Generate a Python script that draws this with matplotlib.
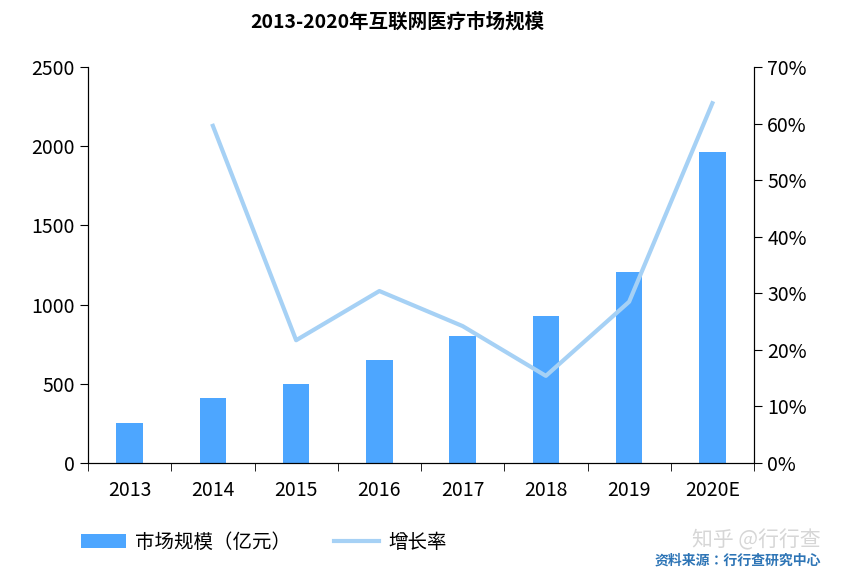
import matplotlib.pyplot as plt
import numpy as np

plt.rcParams['font.family'] = 'sans-serif'
plt.rcParams['font.sans-serif'] = ['Noto Sans CJK SC', 'Noto Sans CJK JP', 'Noto Sans CJK TC',
                                   'Noto Sans CJK KR', 'DejaVu Sans']

years = ['2013', '2014', '2015', '2016', '2017', '2018', '2019', '2020E']
market = [253, 410, 499, 650, 802, 928, 1206, 1963]
growth = [None, 59.6, 21.7, 30.4, 24.2, 15.4, 28.5, 63.6]

fig = plt.figure(figsize=(8.46, 5.78), dpi=100)
ax = fig.add_axes([88 / 846, 1 - 463 / 578, 666 / 846, 396 / 578])
x = np.arange(len(years))
bars = ax.bar(x, market, width=0.32, color='#4da6ff', label='市场规模（亿元）')
ax.set_ylim(0, 2500)
ax.set_yticks(range(0, 2501, 500))
ax.set_xlim(-0.5, len(years) - 0.5)
ax.set_xticks(x)
ax.set_xticklabels(years)
ax.set_xticks(np.arange(-0.5, len(years)), minor=True)
ax.tick_params(axis='x', which='major', length=0, pad=12, labelsize=14)
ax.tick_params(axis='x', which='minor', length=6, direction='out')
ax.tick_params(axis='y', labelsize=14, length=6)
ax.spines['top'].set_visible(False)

ax2 = ax.twinx()
gx = [i for i, g in enumerate(growth) if g is not None]
gy = [g for g in growth if g is not None]
line, = ax2.plot(gx, gy, color='#a6d1f5', lw=3, label='增长率')
ax2.set_ylim(0, 70)
ax2.set_yticks(range(0, 71, 10))
ax2.set_yticklabels([f'{v}%' for v in range(0, 71, 10)])
ax2.tick_params(axis='y', labelsize=14, length=6)
ax2.spines['top'].set_visible(False)

fig.text(0.47, 0.962, '2013-2020年互联网医疗市场规模', ha='center', va='center',
         fontsize=14, fontweight='bold')
fig.legend([bars, line], ['市场规模（亿元）', '增长率'], loc='center left',
           bbox_to_anchor=(0.075, 0.062), ncol=2, frameon=False, fontsize=14,
           handlelength=2.3, handletextpad=0.5, columnspacing=2.2)
fig.text(0.97, 0.065, '知乎 @行行查', ha='right', va='center', fontsize=15,
         color='#cccccc', alpha=0.8)
fig.text(0.97, 0.03, '资料来源：行行查研究中心', ha='right', va='center',
         fontsize=10, color='#2e75b6', fontweight='bold')

fig.savefig('out.png', dpi=100)
